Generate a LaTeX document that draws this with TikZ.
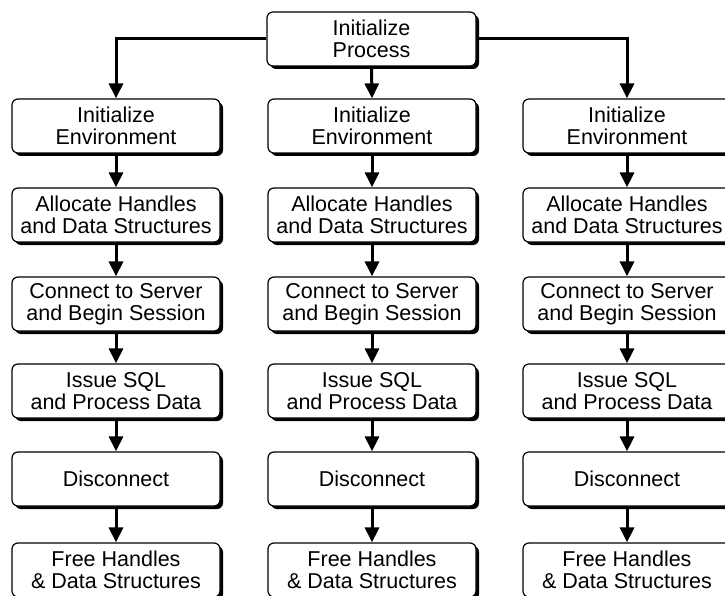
\documentclass[tikz,border=0pt]{standalone}
\usepackage{fontspec}
\setmainfont{Liberation Sans}
\usetikzlibrary{arrows.meta,shadows}
\tikzset{
  stepbox/.style={draw,line width=1.2pt,rounded corners=6pt,fill=white,
    drop shadow={shadow xshift=3pt,shadow yshift=-3pt,fill=black,opacity=1},
    minimum width=208pt,minimum height=54pt,inner sep=0pt,align=center,
    font=\fontsize{21.5}{22}\selectfont},
  flow/.style={line width=3pt,-{Triangle[width=14pt,length=15pt]}}
}
\begin{document}
\begin{tikzpicture}[x=1pt,y=1pt]
\useasboundingbox (0,0) rectangle (725,-596);
\node[stepbox,minimum width=209pt] (proc) at (371.5,-39) {Initialize\\Process};
% left column
\node[stepbox] (env1) at (116,-126) {Initialize\\Environment};
\node[stepbox] (alloc1) at (116,-215) {Allocate Handles\\and Data Structures};
\node[stepbox] (conn1) at (116,-304) {Connect to Server\\and Begin Session};
\node[stepbox] (sql1) at (116,-391) {Issue SQL\\and Process Data};
\node[stepbox] (disc1) at (116,-479) {Disconnect};
\node[stepbox] (free1) at (116,-570) {Free Handles\\\& Data Structures};
% middle column
\node[stepbox] (env2) at (372,-126) {Initialize\\Environment};
\node[stepbox] (alloc2) at (372,-215) {Allocate Handles\\and Data Structures};
\node[stepbox] (conn2) at (372,-304) {Connect to Server\\and Begin Session};
\node[stepbox] (sql2) at (372,-391) {Issue SQL\\and Process Data};
\node[stepbox] (disc2) at (372,-479) {Disconnect};
\node[stepbox] (free2) at (372,-570) {Free Handles\\\& Data Structures};
% right column
\node[stepbox] (env3) at (627,-126) {Initialize\\Environment};
\node[stepbox] (alloc3) at (627,-215) {Allocate Handles\\and Data Structures};
\node[stepbox] (conn3) at (627,-304) {Connect to Server\\and Begin Session};
\node[stepbox] (sql3) at (627,-391) {Issue SQL\\and Process Data};
\node[stepbox] (disc3) at (627,-479) {Disconnect};
\node[stepbox] (free3) at (627,-570) {Free Handles\\\& Data Structures};
% arrows
\draw[flow] (proc.west) -| (env1.north);
\draw[flow] (proc.south) -- (env2.north);
\draw[flow] (proc.east) -| (env3.north);
\draw[flow] (env1) -- (alloc1);
\draw[flow] (alloc1) -- (conn1);
\draw[flow] (conn1) -- (sql1);
\draw[flow] (sql1) -- (disc1);
\draw[flow] (disc1) -- (free1);
\draw[flow] (env2) -- (alloc2);
\draw[flow] (alloc2) -- (conn2);
\draw[flow] (conn2) -- (sql2);
\draw[flow] (sql2) -- (disc2);
\draw[flow] (disc2) -- (free2);
\draw[flow] (env3) -- (alloc3);
\draw[flow] (alloc3) -- (conn3);
\draw[flow] (conn3) -- (sql3);
\draw[flow] (sql3) -- (disc3);
\draw[flow] (disc3) -- (free3);
\end{tikzpicture}
\end{document}
